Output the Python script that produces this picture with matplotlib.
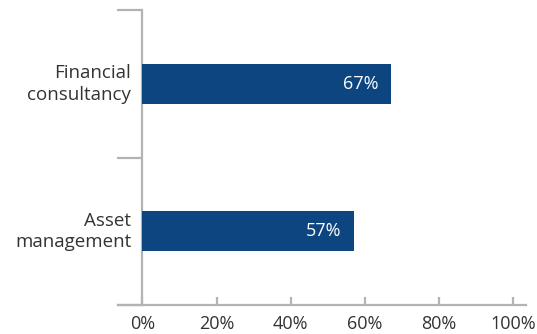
import matplotlib
matplotlib.use("Agg")
import matplotlib.pyplot as plt

categories = ["Asset\nmanagement", "Financial\nconsultancy"]
values = [57, 67]
xticks = [0, 20, 40, 60, 80, 100]
xticklabels = ["0%", "20%", "40%", "60%", "80%", "100%"]

bar_color = "#0c4580"
axis_color = "#b3b3b3"
text_color = "#333333"

plt.rcParams["font.family"] = ["Open Sans", "DejaVu Sans"]

fig = plt.figure(figsize=(5.37, 3.34), dpi=100)
ax = fig.add_axes([118 / 537, 29 / 334, 408 / 537, 295 / 334])

ypos = [0.5, 1.5]
ax.barh(ypos, values, height=0.27, color=bar_color, zorder=3)
for y, v in zip(ypos, values):
    ax.text(v - 3.4, y, f"{v}%", color="white", fontsize=13,
            ha="right", va="center", zorder=4)

# category names sit left of the y axis, right-aligned
for y, c in zip(ypos, categories):
    ax.text(-3.0, y, c, color=text_color, fontsize=13.5, ha="right",
            va="center", linespacing=1.25, clip_on=False)

ax.set_xlim(-6.6, 103.4)
ax.set_ylim(0, 2)

for s in ["top", "right"]:
    ax.spines[s].set_visible(False)
ax.spines["left"].set_position(("data", 0))
for s in ["left", "bottom"]:
    ax.spines[s].set_color(axis_color)
    ax.spines[s].set_linewidth(1.6)

ax.set_xticks(xticks)
ax.set_xticklabels(xticklabels, fontsize=13, color=text_color)
ax.tick_params(axis="x", direction="in", length=6, width=1.6,
               color=axis_color, pad=7)
ax.set_yticks([0, 1, 2])
ax.set_yticklabels([])
ax.tick_params(axis="y", direction="out", length=18, width=1.6,
               color=axis_color)

fig.savefig("out.png", dpi=100)
